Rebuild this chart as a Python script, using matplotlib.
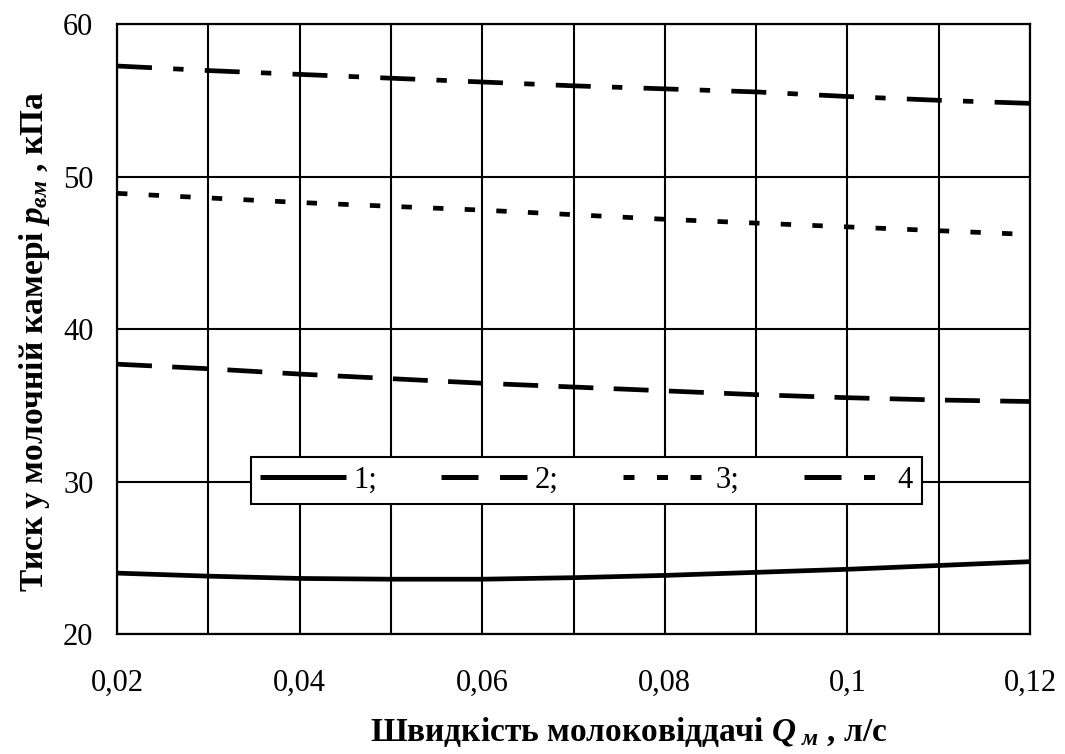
import matplotlib
matplotlib.use("Agg")
import matplotlib.pyplot as plt
import numpy as np

plt.rcParams['font.family'] = ['Liberation Serif', 'DejaVu Serif']
plt.rcParams['mathtext.fontset'] = 'custom'
plt.rcParams['mathtext.rm'] = 'Liberation Serif:bold'
plt.rcParams['mathtext.it'] = 'Liberation Serif:bold:italic'
plt.rcParams['mathtext.bf'] = 'Liberation Serif:bold'

q = [0.02, 0.03, 0.04, 0.05, 0.06, 0.07, 0.08, 0.09, 0.10, 0.11, 0.12]
p1 = [24.0, 23.8, 23.65, 23.6, 23.6, 23.7, 23.85, 24.05, 24.25, 24.5, 24.75]
p2 = [37.7, 37.4, 37.05, 36.75, 36.45, 36.2, 35.95, 35.7, 35.5, 35.35, 35.25]
p3 = [48.9, 48.6, 48.3, 48.05, 47.8, 47.5, 47.2, 46.95, 46.7, 46.45, 46.2]
p4 = [57.25, 56.95, 56.7, 56.45, 56.2, 55.95, 55.75, 55.55, 55.25, 55.0, 54.8]
labels = ['1;', '2;', '3;', '4']
xticks = [0.02, 0.04, 0.06, 0.08, 0.10, 0.12]
xtick_labels = ['0,02', '0,04', '0,06', '0,08', '0,1', '0,12']
yticks = [20, 30, 40, 50, 60]

fig = plt.figure(figsize=(10.65, 7.54), dpi=100)
ax = fig.add_axes([0.1099, 0.159, 0.8573, 0.8091])

lw = 3.4
styles = [None, (7.4, 4.3), (2.2, 4.5), (7.4, 4.5, 2.2, 4.5)]
series = [p1, p2, p3, p4]
for s, st, lab in zip(series, styles, labels):
    if st is None:
        ax.plot(q, s, color='black', lw=lw, label=lab, solid_capstyle='butt')
    else:
        ax.plot(q, s, color='black', lw=lw, label=lab, dashes=st, dash_capstyle='butt')

ax.set_xlim(0.02, 0.12)
ax.set_ylim(20, 60)
ax.set_xticks(xticks)
ax.set_xticklabels(xtick_labels)
ax.set_xticks(np.arange(0.03, 0.12, 0.02), minor=True)
ax.set_yticks(yticks)
ax.grid(True, which='both', axis='x', color='black', lw=1.5)
ax.grid(True, which='major', axis='y', color='black', lw=1.5)
ax.set_axisbelow(True)
ax.tick_params(which='both', length=0, labelsize=22)
ax.tick_params(axis='x', pad=25)
ax.tick_params(axis='y', pad=17)
for sp in ax.spines.values():
    sp.set_linewidth(1.6)

ax.set_xlabel(r'Швидкість молоковіддачі $Q_{\ \mathit{м}}$ , л/с', fontsize=24,
              fontweight='bold')
ax.xaxis.set_label_coords(0.56, -0.132)
ax.set_ylabel(r'Тиск у молочній камері $p_{\mathit{вм}}$ , кПа', fontsize=24,
              fontweight='bold')
ax.yaxis.label.set_va('center')
ax.yaxis.set_label_coords(-0.09, 0.48)

leg = ax.legend(loc='center', bbox_to_anchor=(0.514, 0.252), ncol=4, fontsize=22,
                frameon=True, fancybox=False, edgecolor='black', framealpha=1,
                handlelength=2.8, columnspacing=2.1, handletextpad=0.25,
                borderpad=0.3, borderaxespad=0)
leg.get_frame().set_linewidth(1.5)
for ln in leg.get_lines():
    ln.set_linewidth(3.6)

fig.savefig('out.png', dpi=100)
